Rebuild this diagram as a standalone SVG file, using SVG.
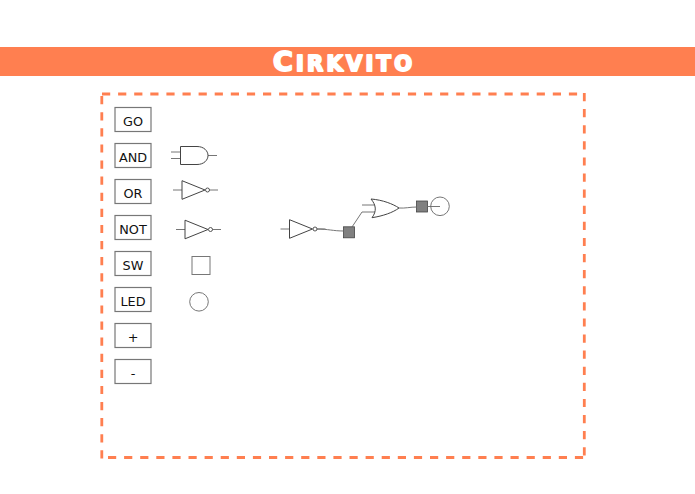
<svg xmlns="http://www.w3.org/2000/svg" width="695" height="494" viewBox="0 0 695 494">
<style>
.btn rect{fill:#fff;stroke:#777;stroke-width:1.200}
.btn text{font-family:"DejaVu Sans",sans-serif;font-size:12.800px;fill:#111;text-anchor:middle}
.g{fill:none;stroke:#444;stroke-width:1}
.w{fill:none;stroke:#666;stroke-width:.9}
.box{fill:#808080;stroke:#444;stroke-width:.8}
.o{fill:none;stroke:#777;stroke-width:1}
.d{fill:none;stroke:#ff7f50;stroke-width:2.800;stroke-dasharray:8.200 7.900}
</style>
<defs>
<g id="not"><path class="w" d="M-9 0H0M25 0H36"/><path class="g" d="M0-9.300V9.300L23 0Z"/><circle cx="25.500" cy="0" r="2" fill="#fff" stroke="#444" stroke-width=".9"/></g>
</defs>
<rect id="banner" x="0" y="47" width="695" height="29" fill="#ff7f50"/>
<text id="title" x="273" y="71" textLength="139" lengthAdjust="spacing" font-family="'DejaVu Sans',sans-serif" font-weight="700" fill="#fff" stroke="#fff" stroke-width="2" stroke-linejoin="round" style="font-variant:small-caps"><tspan font-size="27">C</tspan><tspan font-size="30">irkvito</tspan></text>
<g id="frame"><path class="d" d="M102 94H584.500"/><path class="d" d="M584.300 93V458"/><path class="d" d="M108 457.500H584"/><path class="d" d="M101.800 458.500V94"/></g>
<g id="btn-go" class="btn"><rect x="115" y="107.500" width="36" height="24"/><text x="133" y="126.400">GO</text></g>
<g id="btn-and" class="btn"><rect x="115" y="143.500" width="36" height="24"/><text x="133" y="162.400">AND</text></g>
<g id="btn-or" class="btn"><rect x="115" y="179.500" width="36" height="24"/><text x="133" y="198.400">OR</text></g>
<g id="btn-not" class="btn"><rect x="115" y="215.500" width="36" height="24"/><text x="133" y="234.400">NOT</text></g>
<g id="btn-sw" class="btn"><rect x="115" y="251.500" width="36" height="24"/><text x="133" y="270.400">SW</text></g>
<g id="btn-led" class="btn"><rect x="115" y="287.500" width="36" height="24"/><text x="133" y="306.400">LED</text></g>
<g id="btn-plus" class="btn"><rect x="115" y="323.500" width="36" height="24"/><text x="133" y="342.400">+</text></g>
<g id="btn-minus" class="btn"><rect x="115" y="359.500" width="36" height="24"/><text x="133" y="378.400">-</text></g>
<g id="palette-and"><path class="w" d="M171 152H181M171 158.500H181M208 155.500H217"/><path class="g" d="M180.500 146.500H197C204 146.500 208 151 208 155.500C208 160 204 164.500 197 164.500H180.500Z"/></g>
<g id="palette-not1"><use href="#not" x="182" y="190"/></g>
<g id="palette-not2"><use href="#not" x="185" y="229.500"/></g>
<g id="palette-sw"><rect x="192" y="256.500" width="18" height="18" class="o"/></g>
<g id="palette-led"><circle cx="199" cy="301.800" r="9.300" class="o"/></g>
<g id="circuit-not"><use href="#not" x="289.500" y="229"/></g>
<g id="circuit-or"><path class="w" d="M362 205H375M362 212H375"/><path class="g" d="M371 199C383 200 393 204 399 208C393 212.500 383 216 372 217.700C377 211 376 205 371 199Z"/></g>
<g id="circuit-sw1"><rect x="343.500" y="226.800" width="11" height="11" class="box"/></g>
<g id="circuit-sw2"><rect x="416.500" y="201" width="11" height="11" class="box"/></g>
<g id="circuit-led"><circle cx="440" cy="206.300" r="9.300" class="o"/></g>
<g id="connectors"><path class="w" d="M317 229C328 229 333 231 344 231M352 227L362 212M399 208C405 208.500 410 207 417 207M427 206.500H440"/></g>
</svg>
